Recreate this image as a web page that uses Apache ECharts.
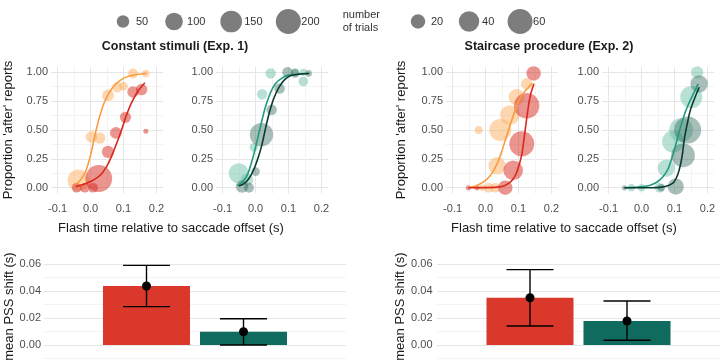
<!DOCTYPE html>
<html><head><meta charset="utf-8">
<script src="https://cdn.jsdelivr.net/npm/echarts@6/dist/echarts.min.js"></script>
<style>html,body{margin:0;padding:0;background:#fff}#c{width:720px;height:364px}</style>
</head><body><div id="c"></div>
<script>
// ---------- data ----------
// points: [flash time (s), proportion 'after', number of trials]
const exp1Light = [[-0.037,0.065,150],[0.003,0.44,45],[0.028,0.43,42],[0.053,0.80,45],[0.081,0.87,35],[0.100,0.88,25],[0.129,0.99,32],[0.168,0.99,18]];
const exp1Red   = [[0.025,0.08,230],[-0.042,0.0,30],[-0.017,0.0,30],[0.008,0.0,30],[0.053,0.31,48],[0.077,0.475,45],[0.106,0.61,40],[0.129,0.83,42],[0.155,0.85,42],[0.168,0.49,8]];
const exp1Teal  = [[-0.051,0.125,130],[-0.026,0.07,50],[-0.005,0.35,24],[0.02,0.81,35],[0.046,0.99,35],[0.12,1.0,20],[0.145,1.0,15],[0.145,0.92,30]];
const exp1Dark  = [[-0.041,0.01,50],[-0.02,0.0,32],[0.0,0.14,24],[0.018,0.46,175],[0.049,0.675,35],[0.073,0.86,35],[0.097,1.0,35],[0.12,0.99,24],[0.161,0.99,14]];
const exp2Light = [[0.125,0.90,13],[0.094,0.785,25],[0.074,0.63,37],[0.045,0.50,47],[-0.021,0.50,6],[0.035,0.19,29],[0.01,0.0,9],[0.03,0.0,9],[-0.01,0.0,4]];
const exp2Red   = [[0.146,0.99,20],[0.125,0.71,62],[0.11,0.38,60],[0.084,0.15,37],[0.06,0.0,20],[-0.052,0.0,2.5],[-0.026,0.0,2.5]];
const exp2Teal  = [[0.169,1.0,14],[0.151,0.785,47],[0.12,0.50,54],[0.096,0.40,47],[0.075,0.17,29],[0.055,0.0,9],[-0.031,0.0,5],[0.0,0.0,5]];
const exp2Dark  = [[0.175,0.90,29],[0.14,0.50,70],[0.126,0.28,54],[0.104,0.01,25],[-0.052,0.0,2.5],[0.06,0.0,5]];
// fitted psychometric curves: [x, y]
const exp1LightCurve = [[-0.045,0.03],[-0.03,0.07],[-0.015,0.14],[0,0.28],[0.013,0.45],[0.028,0.62],[0.045,0.76],[0.065,0.86],[0.09,0.93],[0.12,0.97],[0.17,0.99]];
const exp1RedCurve   = [[-0.045,0.01],[-0.02,0.03],[0.005,0.06],[0.03,0.11],[0.05,0.19],[0.065,0.28],[0.08,0.39],[0.094,0.50],[0.108,0.62],[0.125,0.74],[0.145,0.84],[0.165,0.91]];
const exp1TealCurve  = [[-0.056,0.02],[-0.04,0.05],[-0.025,0.11],[-0.01,0.24],[0.0,0.35],[0.01,0.47],[0.02,0.59],[0.03,0.70],[0.045,0.82],[0.06,0.90],[0.08,0.95],[0.1,0.975],[0.163,0.99]];
const exp1DarkCurve  = [[-0.051,0.015],[-0.035,0.035],[-0.02,0.08],[-0.005,0.16],[0.01,0.28],[0.02,0.38],[0.03,0.51],[0.04,0.63],[0.055,0.77],[0.071,0.87],[0.09,0.94],[0.11,0.975],[0.163,0.99]];
const exp2LightCurve = [[-0.052,0.0],[-0.03,0.015],[-0.006,0.05],[0.01,0.09],[0.025,0.15],[0.04,0.24],[0.05,0.32],[0.063,0.44],[0.076,0.555],[0.09,0.67],[0.101,0.755],[0.118,0.83],[0.132,0.875],[0.142,0.905]];
const exp2RedCurve   = [[-0.052,0.0],[0.0,0.001],[0.035,0.005],[0.055,0.015],[0.071,0.04],[0.082,0.07],[0.091,0.11],[0.1,0.18],[0.107,0.25],[0.112,0.32],[0.118,0.45],[0.125,0.6],[0.131,0.72],[0.137,0.81],[0.147,0.90]];
const exp2TealCurve  = [[-0.052,0.0],[0.0,0.008],[0.024,0.02],[0.045,0.045],[0.065,0.095],[0.08,0.16],[0.09,0.24],[0.1,0.33],[0.11,0.44],[0.12,0.54],[0.131,0.64],[0.145,0.74],[0.157,0.81],[0.172,0.9]];
const exp2DarkCurve  = [[-0.052,0.0],[0.03,0.0],[0.055,0.003],[0.075,0.012],[0.095,0.04],[0.105,0.08],[0.114,0.15],[0.123,0.27],[0.131,0.44],[0.14,0.57],[0.148,0.67],[0.162,0.78],[0.175,0.87]];
// mean PSS shift with error bars
const pssCats = ['A','B'];
const exp1Mean = [0.0437,0.0098];
const exp1Lo   = [0.0284,0.0];
const exp1Hi   = [0.059,0.0195];
const exp2Mean = [0.035,0.0178];
const exp2Lo   = [0.0141,0.0035];
const exp2Hi   = [0.0558,0.0326];
// ticks
const xGridVals = [-0.1,-0.05,0,0.05,0.1,0.15,0.2];
const xTickVals = [-0.1,0,0.1,0.2];
const yGridVals = [0,0.125,0.25,0.375,0.5,0.625,0.75,0.875,1];
const yTickVals = [0,0.25,0.5,0.75,1];
const pssGridVals = [-0.01,0,0.01,0.02,0.03,0.04,0.05,0.06];
const pssTickVals = [0,0.02,0.04,0.06];
// size legend
const legend1 = [50,100,150,200];
const legend2 = [20,40,60];
const NMAX1 = 200, NMAX2 = 60;

// ---------- styles ----------
const FONT = 'Liberation Sans';
const R_MAX = 12.5;
const C = {
  lightRed:'rgba(252,172,92,0.6)', red:'rgba(214,40,30,0.62)',
  teal:'rgba(95,185,158,0.55)', dark:'rgba(45,100,86,0.52)',
  lineLight:'#f89c3d', lineRed:'#d8281c', lineTeal:'#1f9a7c', lineDark:'#0b3b2f',
  barRed:'#d9382a', barGreen:'#0f6b5d'
};
const MAJ = '#e6e6e6', MIN = '#f3f3f3';
function sizeOf(n, nmax){ return 2*R_MAX*Math.sqrt(n/nmax); }

const grid = [], xAxis = [], yAxis = [], series = [];
const PT = 66.5, PH = 127, PW = 112;
function panel(left, yName, nameGap, light, dark, lightCurve, darkCurve, colL, colD, lineL, lineD, nmax){
  const i = grid.length;
  grid.push({left:left, top:PT, width:PW, height:PH});
  xAxis.push({type:'value', gridIndex:i, min:-0.12, max:0.22,
    axisLine:{show:false}, axisTick:{show:false, customValues:xGridVals},
    axisLabel:{customValues:xTickVals, formatter:v=>v.toFixed(1), color:'#4d4d4d', fontSize:11, margin:10, fontFamily:FONT},
    splitLine:{show:true, lineStyle:{color:[MAJ,MIN], width:1}}});
  yAxis.push({type:'value', gridIndex:i, min:-0.05, max:1.05,
    name:yName, nameLocation:'middle', nameGap:nameGap,
    nameTextStyle:{fontSize:13, color:'#1a1a1a', fontFamily:FONT},
    axisLine:{show:false}, axisTick:{show:false, customValues:yGridVals},
    axisLabel:{customValues:yTickVals, formatter:v=>v.toFixed(2), color:'#4d4d4d', fontSize:11, margin:3, fontFamily:FONT},
    splitLine:{show:true, lineStyle:{color:[MAJ,MIN], width:1}}});
  const sc = (d,col,z)=>({type:'scatter', xAxisIndex:i, yAxisIndex:i, data:d, z:z,
    symbolSize:v=>sizeOf(v[2],nmax), itemStyle:{color:col}, silent:true});
  series.push(sc(light,colL,2), sc(dark,colD,3));
  const ln = (d,col)=>({type:'line', xAxisIndex:i, yAxisIndex:i, data:d, z:4, smooth:0.3,
    showSymbol:false, lineStyle:{color:col, width:1.6}, silent:true});
  series.push(ln(lightCurve,lineL), ln(darkCurve,lineD));
}
panel(51, "Proportion 'after' reports", 36, exp1Light, exp1Red, exp1LightCurve, exp1RedCurve, C.lightRed, C.red, C.lineLight, C.lineRed, NMAX1);
panel(216, '', 0, exp1Teal, exp1Dark, exp1TealCurve, exp1DarkCurve, C.teal, C.dark, C.lineTeal, C.lineDark, NMAX1);
panel(446, "Proportion 'after' reports", 38, exp2Light, exp2Red, exp2LightCurve, exp2RedCurve, C.lightRed, C.red, C.lineLight, C.lineRed, NMAX2);
panel(602, '', 0, exp2Teal, exp2Dark, exp2TealCurve, exp2DarkCurve, C.teal, C.dark, C.lineTeal, C.lineDark, NMAX2);

// bar panels
const BAR_W = 87, BAR_GAP = 10, CAP_W = 47;
const PSS_MIN = -0.012, PSS_MAX = 0.069, BT = 251.85, BH = 109.35;
function barPanel(left, width, nameGap, labMargin, mean, lo, hi){
  const i = grid.length;
  grid.push({left:left, top:BT, width:width, height:BH});
  xAxis.push({type:'category', gridIndex:i, data:['x'], axisLine:{show:false}, axisTick:{show:false}, axisLabel:{show:false}, splitLine:{show:false}});
  yAxis.push({type:'value', gridIndex:i, min:PSS_MIN, max:PSS_MAX,
    name:'mean PSS shift (s)', nameLocation:'middle', nameGap:nameGap,
    nameTextStyle:{fontSize:13, color:'#1a1a1a', fontFamily:FONT},
    axisLine:{show:false}, axisTick:{show:false, customValues:pssGridVals},
    axisLabel:{customValues:pssTickVals, formatter:v=>v.toFixed(2), color:'#4d4d4d', fontSize:11, margin:labMargin, fontFamily:FONT},
    splitLine:{show:true, lineStyle:{color:[MIN,MAJ], width:1}}});
  const cols = [C.barRed, C.barGreen];
  pssCats.forEach((c,j)=>{
    series.push({type:'bar', name:c, xAxisIndex:i, yAxisIndex:i, data:[mean[j]], barWidth:BAR_W,
      barGap:(BAR_GAP/BAR_W*100)+'%', itemStyle:{color:cols[j]}, silent:true, z:2});
  });
  series.push({type:'custom', xAxisIndex:i, yAxisIndex:i, z:5, silent:true,
    data: mean.map((m,j)=>[0, lo[j], hi[j], m, j]),
    encode:{x:0, y:[1,2,3]},
    renderItem(params, api){
      const j = api.value(4);
      const off = (j-0.5)*(BAR_W+BAR_GAP);
      const pL = api.coord([0, api.value(1)]);
      const pH = api.coord([0, api.value(2)]);
      const pM = api.coord([0, api.value(3)]);
      const x = pL[0]+off, hw = CAP_W/2;
      const st = {stroke:'#000', lineWidth:1.4};
      return {type:'group', children:[
        {type:'line', shape:{x1:x,y1:pL[1],x2:x,y2:pH[1]}, style:st},
        {type:'line', shape:{x1:x-hw,y1:pL[1],x2:x+hw,y2:pL[1]}, style:st},
        {type:'line', shape:{x1:x-hw,y1:pH[1],x2:x+hw,y2:pH[1]}, style:st},
        {type:'circle', shape:{cx:x, cy:pM[1], r:4.5}, style:{fill:'#000'}}
      ]};
    }});
}
barPanel(44, 302, 25, 3, exp1Mean, exp1Lo, exp1Hi);
barPanel(437, 299.5, 28, 4.5, exp2Mean, exp2Lo, exp2Hi);

// ---------- legend & titles ----------
const mctx = document.createElement('canvas').getContext('2d');
mctx.font = '11px "'+FONT+'"';
const LEG_Y = 21.5, KEY_W = 25, LAB_OFF = 13, LEG_SP = 13.3;
const graphics = [];
function sizeLegend(vals, nmax, startX){
  let cx = startX, end = startX;
  vals.forEach(v=>{
    graphics.push({type:'circle', shape:{cx:cx, cy:LEG_Y, r:R_MAX*Math.sqrt(v/nmax)}, style:{fill:'#7d7d7d'}, silent:true});
    const tx = cx + LAB_OFF, s = String(v);
    graphics.push({type:'text', x:tx, y:LEG_Y, style:{text:s, fontSize:11, fontFamily:FONT, fill:'#333', align:'left', verticalAlign:'middle'}, silent:true});
    end = tx + mctx.measureText(s).width;
    cx = end + LEG_SP + KEY_W/2;
  });
  return end;
}
const end1 = sizeLegend(legend1, NMAX1, 123);
graphics.push({type:'text', x:end1+23, y:LEG_Y, style:{text:'number\nof trials', fontSize:11, lineHeight:12.7, fontFamily:FONT, fill:'#333', align:'left', verticalAlign:'middle'}, silent:true});
sizeLegend(legend2, NMAX2, 418);
function label(text, x, y, size, weight){
  graphics.push({type:'text', x:x, y:y, style:{text:text, fontSize:size, fontWeight:weight||'normal', fontFamily:FONT, fill:'#1a1a1a', align:'center', verticalAlign:'middle'}, silent:true});
}
label('Constant stimuli (Exp. 1)', 175, 47, 12.5, 'bold');
label('Staircase procedure (Exp. 2)', 549, 47, 12.5, 'bold');
label('Flash time relative to saccade offset (s)', 171, 228, 13);
label('Flash time relative to saccade offset (s)', 564, 228, 13);

const chart = echarts.init(document.getElementById('c'), null, {renderer:'canvas'});
chart.setOption({
  animation:false, backgroundColor:'#fff',
  textStyle:{fontFamily:FONT},
  grid, xAxis, yAxis, series, graphic:graphics
});
</script></body></html>
